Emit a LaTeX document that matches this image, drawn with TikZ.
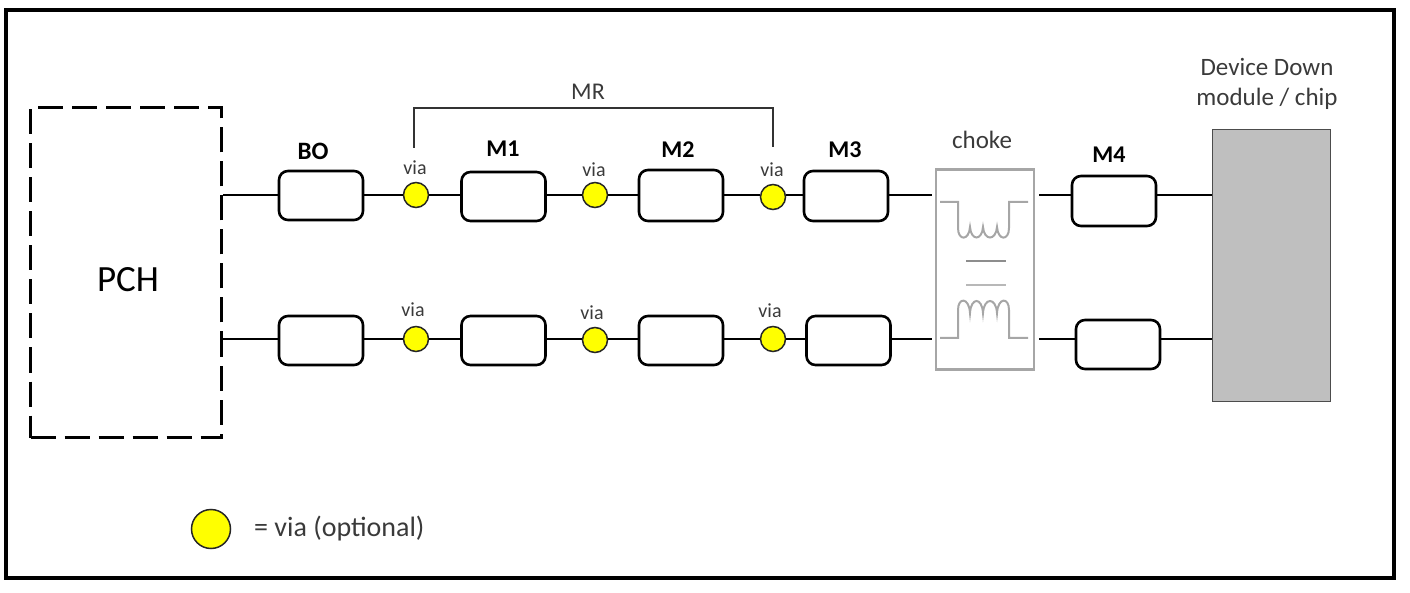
\documentclass[tikz,border=0pt]{standalone}
\usepackage{fontspec}
\setmainfont{Carlito}
\usetikzlibrary{arrows.meta}
\definecolor{viatext}{HTML}{3A3A3A}
\definecolor{chokegray}{HTML}{A6A6A6}
\definecolor{chipgray}{HTML}{BFBFBF}
\definecolor{viayellow}{HTML}{FFFF00}
\tikzset{
    seg/.style={draw=black, line width=2.6pt, rounded corners=9pt, minimum width=84pt, minimum height=49pt, inner sep=0pt, fill=white},
    via/.style={circle, draw=black!85, line width=1.5pt, fill=viayellow, minimum size=25pt, inner sep=0pt},
    vialabel/.style={text=viatext, font=\fontsize{20}{24}\selectfont, inner sep=0pt},
    seglabel/.style={font=\fontsize{24}{28}\selectfont\bfseries, inner sep=0pt},
    plainlabel/.style={text=viatext, font=\fontsize{25}{30}\selectfont, inner sep=0pt},
    trace/.style={line width=1.4pt},
    winding/.style={draw=chokegray, line width=2pt}
}

\begin{document}
\begin{tikzpicture}[x=1pt,y=-1pt]
                \useasboundingbox (0,0) rectangle (1410,593);
                \draw [line width=4.5pt] (6,10) rectangle (1394,578);
                \node [draw, dash pattern=on 25pt off 9pt, line width=3pt, minimum width=191pt, minimum height=330pt, inner sep=0pt] (pch) at (126,272.5) {};
                \node [font=\fontsize{37}{42}\selectfont, inner sep=0pt] (pchlabel) at (128,280) {PCH};
                \node [draw=black!70, line width=1pt, fill=chipgray, minimum width=118pt, minimum height=271pt, inner sep=0pt] (chip) at (1271.5,265.5) {};
                \node [draw=chokegray, line width=2.6pt, minimum width=98pt, minimum height=200pt, inner sep=0pt] (choke) at (985,269.5) {};
                \coordinate (rowa) at (0,195);
                \coordinate (rowb) at (0,339);
                % upper row
                \node [seg] (boa) at (321,195.5) {};
                \node [via] (viaa) at (416,195) {};
                \node [seg] (mia) at (503.5,196.5) {};
                \node [via] (viab) at (595,195) {};
                \node [seg, minimum height=51pt] (mii) at (681,195.5) {};
                \node [via] (viac) at (773,197) {};
                \node [seg, minimum height=50pt] (miii) at (846,196) {};
                \node [seg, minimum height=50pt] (miv) at (1114,201) {};
                % lower row
                \node [seg] (bob) at (321,340.5) {};
                \node [via] (viad) at (416,339) {};
                \node [seg] (mib) at (503.5,340.5) {};
                \node [via] (viae) at (595,340) {};
                \node [seg] (miib) at (681,340.5) {};
                \node [via] (viaf) at (773,339) {};
                \node [seg] (miiib) at (848.5,340.5) {};
                \node [seg] (mivb) at (1118,344.5) {};
                \draw [trace] (pch.east |- rowa) -- (boa.west |- rowa);
                \draw [trace] (boa.east |- rowa) -- (viaa);
                \draw [trace] (viaa) -- (mia.west |- rowa);
                \draw [trace] (mia.east |- rowa) -- (viab);
                \draw [trace] (viab) -- (mii.west |- rowa);
                \draw [trace] (mii.east |- rowa) -- (viac.west |- rowa);
                \draw [trace] (viac.east |- rowa) -- (miii.west |- rowa);
                \draw [trace, shorten >=3pt] (miii.east |- rowa) -- (choke.west |- rowa);
                \draw [trace, shorten <=4pt] (choke.east |- rowa) -- (miv.west |- rowa);
                \draw [trace] (miv.east |- rowa) -- (chip.west |- rowa);
                \draw [trace] (pch.east |- rowb) -- (bob.west |- rowb);
                \draw [trace] (bob.east |- rowb) -- (viad);
                \draw [trace] (viad) -- (mib.west |- rowb);
                \draw [trace] (mib.east |- rowb) -- (viae.west |- rowb);
                \draw [trace] (viae.east |- rowb) -- (miib.west |- rowb);
                \draw [trace] (miib.east |- rowb) -- (viaf);
                \draw [trace] (viaf) -- (miiib.west |- rowb);
                \draw [trace, shorten >=3pt] (miiib.east |- rowb) -- (choke.west |- rowb);
                \draw [trace, shorten <=4pt] (choke.east |- rowb) -- (mivb.west |- rowb);
                \draw [trace] (mivb.east |- rowb) -- (chip.west |- rowb);
                % choke windings
                \draw [winding] (940,202) -- (958,202) -- (958,228) .. controls (958,241) and (969,241) .. (970,227) .. controls (971,241) and (982,241) .. (983,227) .. controls (984,241) and (996,241) .. (997,227) .. controls (998,241) and (1009,241) .. (1009,228) -- (1009,202) -- (1028,202);
                \draw [winding] (940,338) -- (958,338) -- (958,310) .. controls (958,297) and (969,297) .. (970,313) .. controls (971,297) and (982,297) .. (983,313) .. controls (984,297) and (996,297) .. (997,313) .. controls (998,297) and (1009,297) .. (1009,310) -- (1009,338) -- (1028,338);
                \draw [winding, draw=chokegray!85!black] (966,261) -- (1006,261);
                \draw [winding, draw=chokegray!80] (966,285) -- (1006,285);
                % MR bracket
                \coordinate (mrleft) at (414,148);
                \coordinate (mrright) at (773,147);
                \draw [trace, draw=black!80] (mrleft) -- (414,108) -- (773,108) -- (mrright);
                \node [plainlabel, font=\fontsize{24}{28}\selectfont] (mrlabel) at (588,92) {MR};
                % labels
                \node [seglabel, font=\fontsize{25}{28}\selectfont\bfseries] (bolabel) at (313,151) {BO};
                \node [seglabel] (milabel) at (503,149) {M1};
                \node [seglabel] (miilabel) at (678,150) {M2};
                \node [seglabel] (miiilabel) at (845,150) {M3};
                \node [seglabel] (mivlabel) at (1109,155) {M4};
                \node [vialabel] (vlaba) at (415,168) {via};
                \node [vialabel] (vlabb) at (594,170) {via};
                \node [vialabel] (vlabc) at (772,170) {via};
                \node [vialabel] (vlabd) at (413,310) {via};
                \node [vialabel] (vlabe) at (592,313) {via};
                \node [vialabel] (vlabf) at (770,311) {via};
                \node [plainlabel] (chokelabel) at (982,140) {choke};
                \node [plainlabel, align=center] (chiplabel) at (1267,84) {Device Down\\module / chip};
                % legend
                \node [via, minimum size=39pt] (legendvia) at (211,529) {};
                \node [plainlabel, font=\fontsize{28}{32}\selectfont, anchor=west] (legendlabel) at (254,529) {= via (optional)};
            \end{tikzpicture}
\end{document}
